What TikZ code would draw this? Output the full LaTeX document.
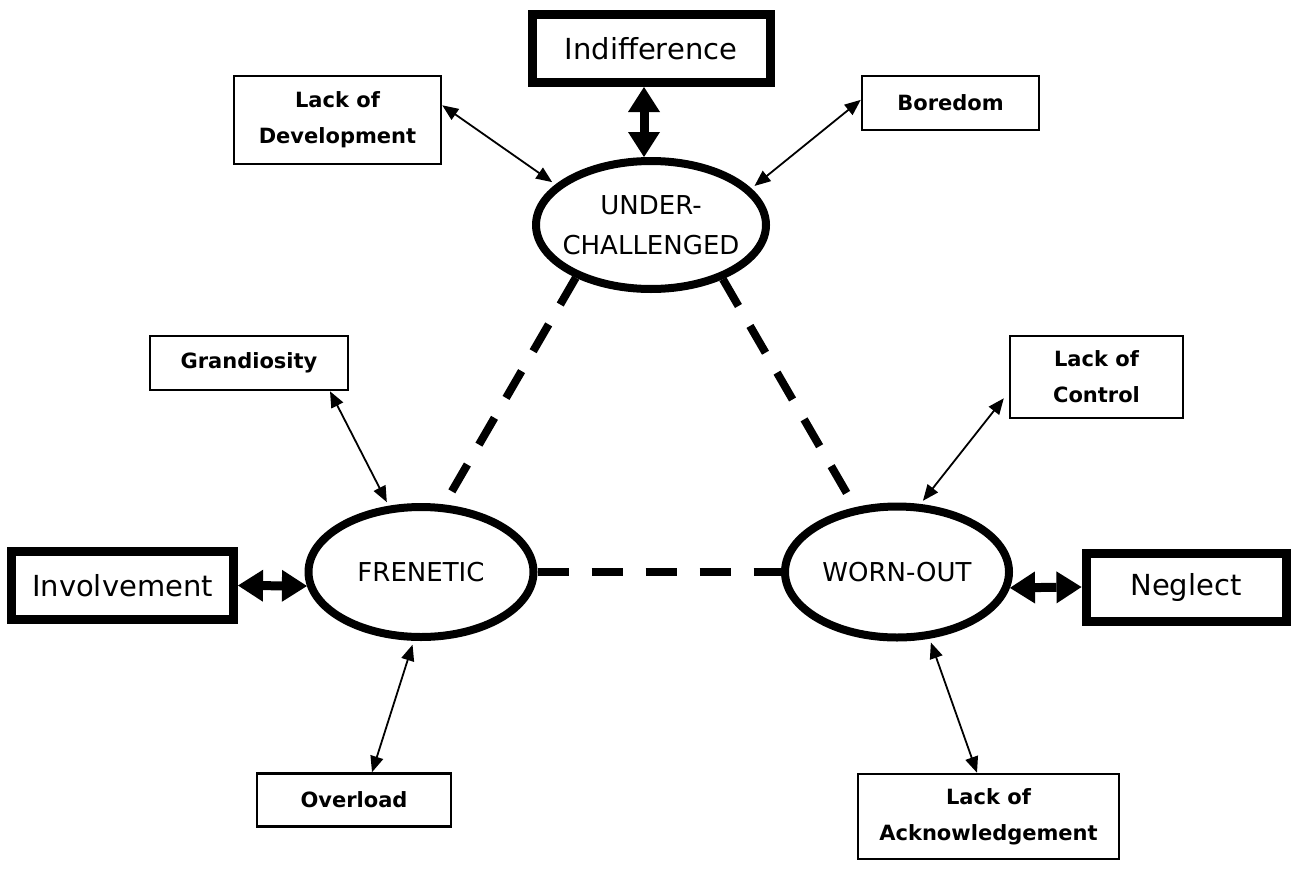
\documentclass[tikz,border=0pt]{standalone}
\usepackage{fontspec}
\setmainfont{DejaVu Sans}
\usetikzlibrary{arrows.meta,shapes.geometric}
\begin{document}
\begin{tikzpicture}[x=1pt,y=-1pt,
  smallbox/.style={draw, line width=2.5pt, inner sep=0pt, align=center, font=\fontsize{21}{36}\selectfont\bfseries},
  bigbox/.style={draw, line width=9pt, inner sep=0pt, font=\fontsize{29}{34}\selectfont},
  oval/.style={draw, ellipse, line width=8pt, inner ysep=0pt, inner xsep=-16pt, align=center, font=\fontsize{26}{40}\selectfont},
  thinarrow/.style={line width=1.8pt, {Triangle[length=16pt,width=13pt]}-{Triangle[length=16pt,width=13pt]}},
  thickarrow/.style={line width=9pt, {Triangle[length=25pt,width=32pt,line width=0pt]}-{Triangle[length=25pt,width=32pt,line width=0pt]}},
  dashline/.style={line width=8pt, dash pattern=on 31pt off 23pt}
]
\useasboundingbox (0,0) rectangle (1297,875);

% ellipses
\node[oval, minimum width=230pt, minimum height=128pt] (uc) at (651,225) {UNDER-\\CHALLENGED};
\node[oval, minimum width=225pt, minimum height=130pt] (fr) at (421,572) {FRENETIC};
\node[oval, minimum width=224pt, minimum height=131pt] (wo) at (897,572) {WORN-OUT};

% big boxes
\node[bigbox, minimum width=238pt, minimum height=68pt] (ind) at (651,48.5) {Indifference};
\node[bigbox, minimum width=222pt, minimum height=68pt] (inv) at (122.5,585.5) {Involvement};
\node[bigbox, minimum width=200pt, minimum height=68pt] (neg) at (1186,587) {Neglect};

% small boxes
\node[smallbox, minimum width=207pt, minimum height=88pt] (lod) at (337.5,120) {Lack of\\Development};
\node[smallbox, minimum width=177pt, minimum height=54pt] (bor) at (950.5,103) {Boredom};
\node[smallbox, minimum width=198pt, minimum height=54pt] (gra) at (249,363) {Grandiosity};
\node[smallbox, minimum width=173pt, minimum height=82pt] (loc) at (1096.5,377) {Lack of\\Control};
\node[smallbox, minimum width=194pt, minimum height=53pt] (ovl) at (354,800) {Overload};
\node[smallbox, minimum width=261pt, minimum height=85pt] (lak) at (988.5,816.5) {Lack of\\Acknowledgement};

% dashed triangle
\draw[dashline] (uc.215) -- (fr.71);
\draw[dashline] (uc.323) -- (wo.123);
\draw[dashline] (fr.east) -- (wo.west);

% thick arrows
\draw[thickarrow] ([xshift=-7pt]ind.south) -- ([xshift=-7pt]uc.north);
\draw[thickarrow] (inv.east) -- (fr.187);
\draw[thickarrow] (wo.352) -- (neg.west);

% thin arrows
\draw[thinarrow, shorten >=4pt] (lod.8) -- (uc.157);
\draw[thinarrow, shorten >=4pt] (bor.178) -- (uc.20);
\draw[thinarrow, shorten >=4pt] ([xshift=81pt]gra.south) -- (fr.116);
\draw[thinarrow, shorten <=8pt, shorten >=4pt] ([yshift=-15pt]loc.west) -- (wo.71);
\draw[thinarrow, shorten <=4pt] (fr.264) -- ([xshift=18pt]ovl.north);
\draw[thinarrow, shorten <=4pt] (wo.296) -- ([xshift=-11.5pt]lak.north);
\end{tikzpicture}
\end{document}
